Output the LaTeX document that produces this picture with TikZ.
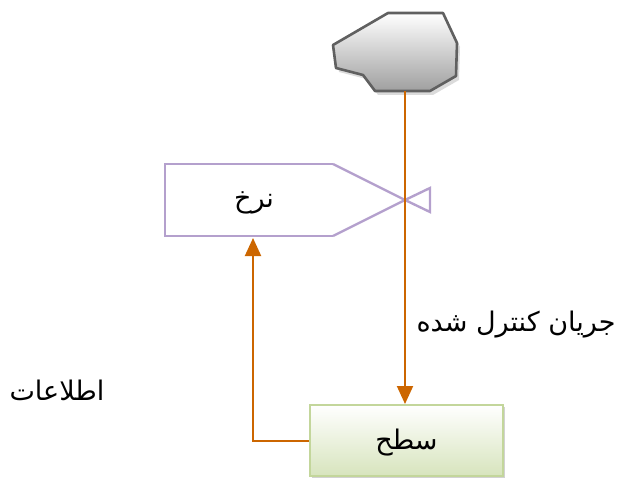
\documentclass[tikz,border=0pt]{standalone}
\usepackage{fontspec}
\usetikzlibrary{arrows.meta,shadows}
\newfontfamily\arabicfont[Script=Arabic]{DejaVu Sans}
\TeXXeTstate=1
\definecolor{flow}{RGB}{204,102,0}
\definecolor{valvec}{RGB}{180,160,205}
\definecolor{boxedge}{RGB}{195,214,155}
\definecolor{boxfill}{RGB}{215,228,189}
\definecolor{cloudedge}{RGB}{96,96,96}
\tikzset{
  px/.style={x=1pt,y=-1pt},
  flowline/.style={draw=flow,line width=2pt,-{Triangle[width=16pt,length=18pt]}},
  valveline/.style={draw=valvec,line width=2.4pt},
  lbl/.style={font=\arabicfont\fontsize{27}{32}\selectfont,inner sep=0pt},
}
\begin{document}
\begin{tikzpicture}[px]
\useasboundingbox (0,0) rectangle (623,478);
% cloud
\fill[gray!40,opacity=0.7] (391,17) -- (446,17) -- (460,47) -- (459,80) -- (433,95) -- (378,95) -- (366,79) -- (339,72) -- (336,49) -- cycle;
\draw[cloudedge,line width=2.6pt,line join=round,top color=white,bottom color=gray!75]
  (388,13) -- (443,13) -- (457,43) -- (456,76) -- (430,91) -- (375,91) -- (363,75) -- (336,68) -- (333,45) -- cycle;
\coordinate (cloudb) at (405,91);
% valve
\draw[valveline] (333,164) -- (165,164) -- (165,236) -- (333,236);
\coordinate (vc) at (405,200);
\draw[valveline] (333,164) -- (vc) -- (333,236);
\draw[valveline,line join=miter] (vc) -- (430,188) -- (430,212) -- cycle;
\node[lbl] (rate) at (254,203) {\beginR نرخ\endR};
% level box
\fill[gray!35] (312,407) rectangle (505,478);
\node[draw=boxedge,line width=2pt,top color=white,bottom color=boxfill,minimum width=193pt,minimum height=71pt,inner sep=0pt,anchor=north west] (level) at (309,404) {};
\node[lbl] at ([yshift=-2pt]level.center) {\beginR سطح\endR};
\coordinate (ratebot) at (253,238);
% flows
\draw[flowline] (cloudb) -- (level.north -| cloudb);
\draw[flowline] (level.west) -- (ratebot |- level.west) -- (ratebot);
% labels
\node[lbl] (flowlbl) at (516,325) {\beginR جریان کنترل شده\endR};
\node[lbl] (info) at (57,390) {\beginR اطلاعات\endR};
\end{tikzpicture}
\end{document}
